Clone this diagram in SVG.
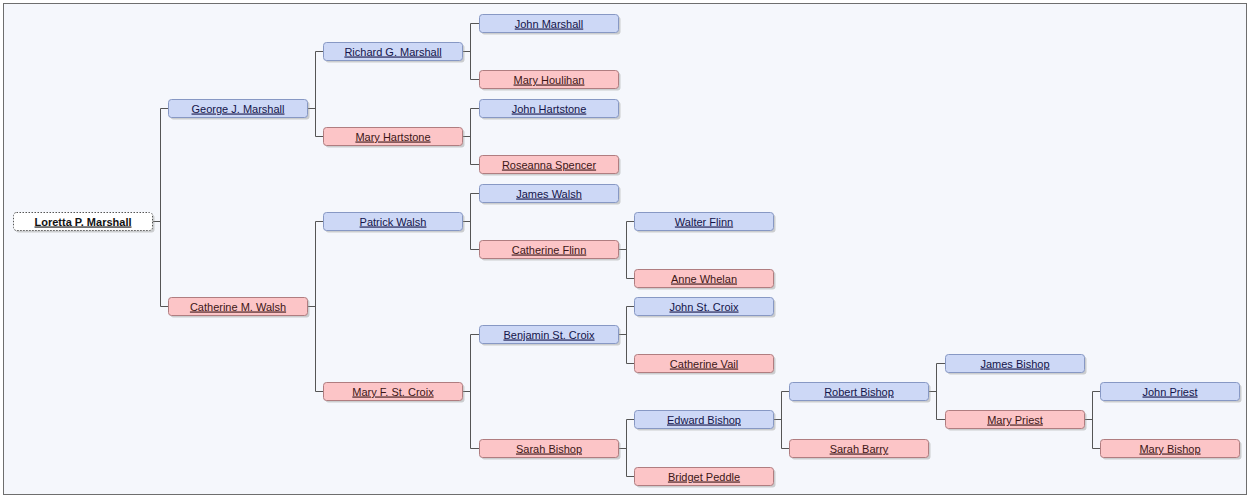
<svg xmlns="http://www.w3.org/2000/svg" width="1250" height="499" viewBox="0 0 1250 499">
<style>
.bg{fill:#f5f7fc;stroke:#6e6e6e;stroke-width:1}
.sh{fill:#9a9a9a;opacity:0.45}
.m rect.b{fill:#cdd8f6;stroke:#8798c4;stroke-width:1}
.f rect.b{fill:#fcc5c7;stroke:#b07d80;stroke-width:1}
.r rect.b{fill:#ffffff;stroke:#555;stroke-width:1;stroke-dasharray:1.5 1.5}
text{font-family:"Liberation Sans",Arial,sans-serif;font-size:11px;fill:#14144a;text-anchor:middle;text-decoration:underline}
.f text{fill:#3c1616}
.r text{font-weight:bold;fill:#111}
.c path{fill:none;stroke:#555;stroke-width:1}
</style>
<rect x="0" y="0" width="1250" height="499" fill="#ffffff"/>
<rect class="bg" x="3.5" y="3.5" width="1243" height="491"/>
<g class="c" id="connectors">
<path d="M152.5 221.5H160.5M160.5 108.5V306.5M160.5 108.5H168.5M160.5 306.5H168.5"/>
<path d="M307.5 108.5H315.5M315.5 51.5V136.5M315.5 51.5H323.5M315.5 136.5H323.5"/>
<path d="M307.5 306.5H315.5M315.5 221.5V391.5M315.5 221.5H323.5M315.5 391.5H323.5"/>
<path d="M462.5 51.5H470.5M470.5 23.5V79.5M470.5 23.5H479.5M470.5 79.5H479.5"/>
<path d="M462.5 136.5H470.5M470.5 108.5V164.5M470.5 108.5H479.5M470.5 164.5H479.5"/>
<path d="M462.5 221.5H470.5M470.5 193.5V249.5M470.5 193.5H479.5M470.5 249.5H479.5"/>
<path d="M462.5 391.5H470.5M470.5 334.5V448.5M470.5 334.5H479.5M470.5 448.5H479.5"/>
<path d="M618.5 249.5H626.5M626.5 221.5V278.5M626.5 221.5H634.5M626.5 278.5H634.5"/>
<path d="M618.5 334.5H626.5M626.5 306.5V363.5M626.5 306.5H634.5M626.5 363.5H634.5"/>
<path d="M618.5 448.5H626.5M626.5 419.5V476.5M626.5 419.5H634.5M626.5 476.5H634.5"/>
<path d="M773.5 419.5H781.5M781.5 391.5V448.5M781.5 391.5H789.5M781.5 448.5H789.5"/>
<path d="M928.5 391.5H936.5M936.5 363.5V419.5M936.5 363.5H945.5M936.5 419.5H945.5"/>
<path d="M1084.5 419.5H1092.5M1092.5 391.5V448.5M1092.5 391.5H1100.5M1092.5 448.5H1100.5"/>
</g>
<g id="loretta" class="r"><rect class="sh" x="15.5" y="214.5" width="139" height="18" rx="3"/><rect class="b" x="13.5" y="212.5" width="139" height="18" rx="3"/><text x="83" y="225.5">Loretta P. Marshall</text></g>
<g id="george" class="m"><rect class="sh" x="170.5" y="101.5" width="139" height="18" rx="3"/><rect class="b" x="168.5" y="99.5" width="139" height="18" rx="3"/><text x="238" y="112.5">George J. Marshall</text></g>
<g id="catherine-m" class="f"><rect class="sh" x="170.5" y="299.5" width="139" height="18" rx="3"/><rect class="b" x="168.5" y="297.5" width="139" height="18" rx="3"/><text x="238" y="310.5">Catherine M. Walsh</text></g>
<g id="richard" class="m"><rect class="sh" x="325.5" y="44.5" width="139" height="18" rx="3"/><rect class="b" x="323.5" y="42.5" width="139" height="18" rx="3"/><text x="393" y="55.5">Richard G. Marshall</text></g>
<g id="mary-hartstone" class="f"><rect class="sh" x="325.5" y="129.5" width="139" height="18" rx="3"/><rect class="b" x="323.5" y="127.5" width="139" height="18" rx="3"/><text x="393" y="140.5">Mary Hartstone</text></g>
<g id="patrick" class="m"><rect class="sh" x="325.5" y="214.5" width="139" height="18" rx="3"/><rect class="b" x="323.5" y="212.5" width="139" height="18" rx="3"/><text x="393" y="225.5">Patrick Walsh</text></g>
<g id="mary-f" class="f"><rect class="sh" x="325.5" y="384.5" width="139" height="18" rx="3"/><rect class="b" x="323.5" y="382.5" width="139" height="18" rx="3"/><text x="393" y="395.5">Mary F. St. Croix</text></g>
<g id="john-marshall" class="m"><rect class="sh" x="481.5" y="16.5" width="139" height="18" rx="3"/><rect class="b" x="479.5" y="14.5" width="139" height="18" rx="3"/><text x="549" y="27.5">John Marshall</text></g>
<g id="mary-houlihan" class="f"><rect class="sh" x="481.5" y="72.5" width="139" height="18" rx="3"/><rect class="b" x="479.5" y="70.5" width="139" height="18" rx="3"/><text x="549" y="83.5">Mary Houlihan</text></g>
<g id="john-hartstone" class="m"><rect class="sh" x="481.5" y="101.5" width="139" height="18" rx="3"/><rect class="b" x="479.5" y="99.5" width="139" height="18" rx="3"/><text x="549" y="112.5">John Hartstone</text></g>
<g id="roseanna" class="f"><rect class="sh" x="481.5" y="157.5" width="139" height="18" rx="3"/><rect class="b" x="479.5" y="155.5" width="139" height="18" rx="3"/><text x="549" y="168.5">Roseanna Spencer</text></g>
<g id="james-walsh" class="m"><rect class="sh" x="481.5" y="186.5" width="139" height="18" rx="3"/><rect class="b" x="479.5" y="184.5" width="139" height="18" rx="3"/><text x="549" y="197.5">James Walsh</text></g>
<g id="catherine-flinn" class="f"><rect class="sh" x="481.5" y="242.5" width="139" height="18" rx="3"/><rect class="b" x="479.5" y="240.5" width="139" height="18" rx="3"/><text x="549" y="253.5">Catherine Flinn</text></g>
<g id="benjamin" class="m"><rect class="sh" x="481.5" y="327.5" width="139" height="18" rx="3"/><rect class="b" x="479.5" y="325.5" width="139" height="18" rx="3"/><text x="549" y="338.5">Benjamin St. Croix</text></g>
<g id="sarah-bishop" class="f"><rect class="sh" x="481.5" y="441.5" width="139" height="18" rx="3"/><rect class="b" x="479.5" y="439.5" width="139" height="18" rx="3"/><text x="549" y="452.5">Sarah Bishop</text></g>
<g id="walter" class="m"><rect class="sh" x="636.5" y="214.5" width="139" height="18" rx="3"/><rect class="b" x="634.5" y="212.5" width="139" height="18" rx="3"/><text x="704" y="225.5">Walter Flinn</text></g>
<g id="anne" class="f"><rect class="sh" x="636.5" y="271.5" width="139" height="18" rx="3"/><rect class="b" x="634.5" y="269.5" width="139" height="18" rx="3"/><text x="704" y="282.5">Anne Whelan</text></g>
<g id="john-stcroix" class="m"><rect class="sh" x="636.5" y="299.5" width="139" height="18" rx="3"/><rect class="b" x="634.5" y="297.5" width="139" height="18" rx="3"/><text x="704" y="310.5">John St. Croix</text></g>
<g id="catherine-vail" class="f"><rect class="sh" x="636.5" y="356.5" width="139" height="18" rx="3"/><rect class="b" x="634.5" y="354.5" width="139" height="18" rx="3"/><text x="704" y="367.5">Catherine Vail</text></g>
<g id="edward" class="m"><rect class="sh" x="636.5" y="412.5" width="139" height="18" rx="3"/><rect class="b" x="634.5" y="410.5" width="139" height="18" rx="3"/><text x="704" y="423.5">Edward Bishop</text></g>
<g id="bridget" class="f"><rect class="sh" x="636.5" y="469.5" width="139" height="18" rx="3"/><rect class="b" x="634.5" y="467.5" width="139" height="18" rx="3"/><text x="704" y="480.5">Bridget Peddle</text></g>
<g id="robert" class="m"><rect class="sh" x="791.5" y="384.5" width="139" height="18" rx="3"/><rect class="b" x="789.5" y="382.5" width="139" height="18" rx="3"/><text x="859" y="395.5">Robert Bishop</text></g>
<g id="sarah-barry" class="f"><rect class="sh" x="791.5" y="441.5" width="139" height="18" rx="3"/><rect class="b" x="789.5" y="439.5" width="139" height="18" rx="3"/><text x="859" y="452.5">Sarah Barry</text></g>
<g id="james-bishop" class="m"><rect class="sh" x="947.5" y="356.5" width="139" height="18" rx="3"/><rect class="b" x="945.5" y="354.5" width="139" height="18" rx="3"/><text x="1015" y="367.5">James Bishop</text></g>
<g id="mary-priest" class="f"><rect class="sh" x="947.5" y="412.5" width="139" height="18" rx="3"/><rect class="b" x="945.5" y="410.5" width="139" height="18" rx="3"/><text x="1015" y="423.5">Mary Priest</text></g>
<g id="john-priest" class="m"><rect class="sh" x="1102.5" y="384.5" width="139" height="18" rx="3"/><rect class="b" x="1100.5" y="382.5" width="139" height="18" rx="3"/><text x="1170" y="395.5">John Priest</text></g>
<g id="mary-bishop" class="f"><rect class="sh" x="1102.5" y="441.5" width="139" height="18" rx="3"/><rect class="b" x="1100.5" y="439.5" width="139" height="18" rx="3"/><text x="1170" y="452.5">Mary Bishop</text></g>
</svg>
